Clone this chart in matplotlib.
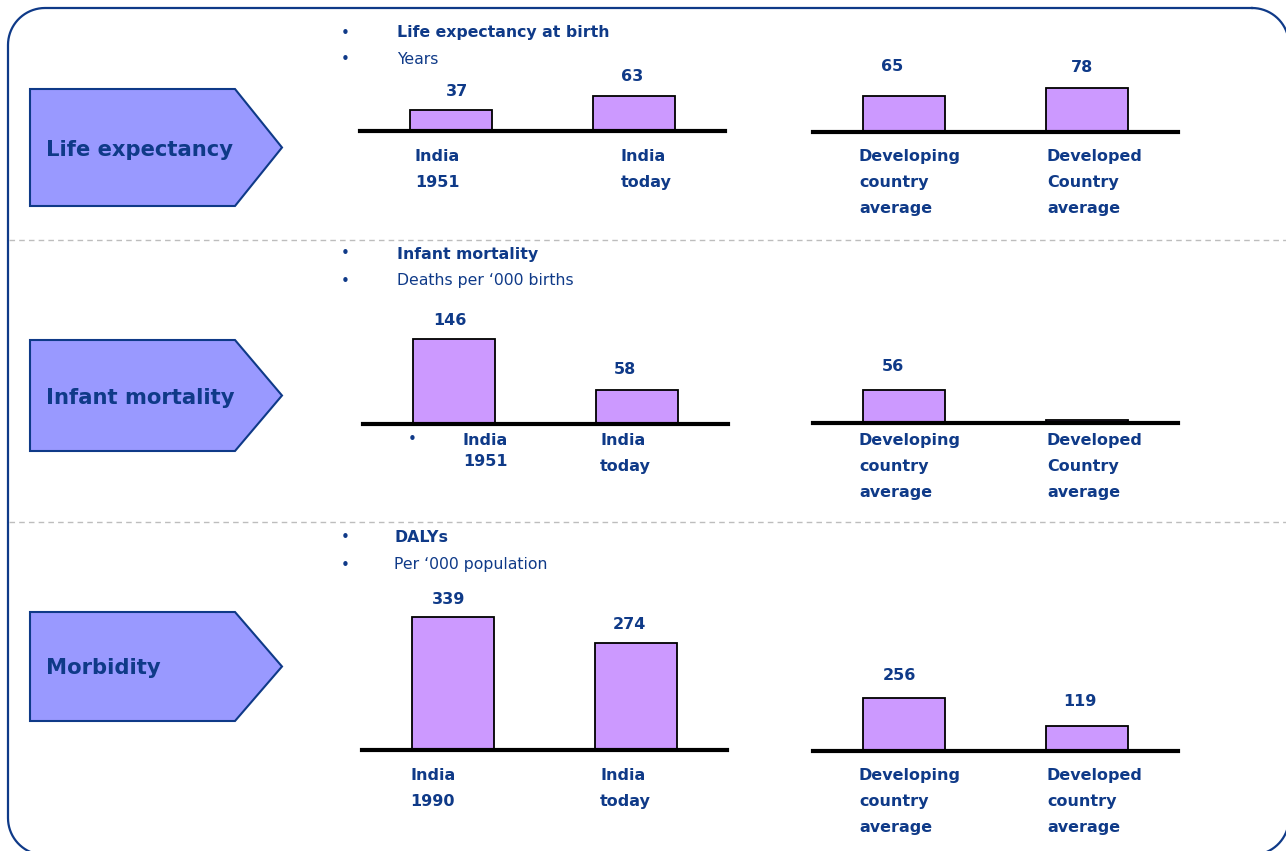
import numpy as np
import matplotlib
matplotlib.use("Agg")
import matplotlib.pyplot as plt
from matplotlib.patches import Polygon

# data
rows = ["Life expectancy", "Infant mortality", "Morbidity"]
headings = ["Life expectancy at birth", "Infant mortality", "DALYs"]
units = ["Years", "Deaths per \u2018000 births", "Per \u2018000 population"]

india_labels = [["India\n1951", "India\ntoday"],
                ["India\n1951", "India\ntoday"],
                ["India\n1990", "India\ntoday"]]
india_values = [[37, 63], [146, 58], [339, 274]]

world_labels = [["Developing\ncountry\naverage", "Developed\nCountry\naverage"],
                ["Developing\ncountry\naverage", "Developed\nCountry\naverage"],
                ["Developing\ncountry\naverage", "Developed\ncountry\naverage"]]
world_values = [[65, 78], [56, 5], [256, 119]]
world_shown = [[True, True], [True, False], [True, True]]

# layout (pixels, image coords from top-left)
W, H = 1286, 851
NAVY = "#0F3A88"
BAR = "#CC99FF"
ARROW = "#9999FF"

row_top = [89, 340, 612]
row_bot = [206, 451, 721]
head_y = [33, 254, 538]
head_x = [397, 397, 394]
base_left = [131, 424, 750]
base_right = [132, 423, 751]
left_x0 = [360, 363, 362]
right_x0 = 813
group_w = 365
scale_left = [0.56, 0.58, 0.392]
scale_right = [0.56, 0.59, 0.207]
label_top = [149, 433, 768]
left_label_x = [[415, 621], [463, 600], [410, 600]]
right_label_x = [859, 1047]
# value label nudges (dx, dy) in pixels, relative to bar centre / top
left_nudge = [[(6, 19), (-2, 19)], [(-4, 19), (-12, 21)], [(-5, 18), (-6, 18)]]
right_nudge = [[(-12, 29), (-5, 21)], [(-11, 23), (0, 0)], [(-5, 23), (-7, 25)]]

fig = plt.figure(figsize=(W / 100, H / 100), dpi=100)
bg = fig.add_axes([0, 0, 1, 1])
bg.set_xlim(0, W)
bg.set_ylim(H, 0)
bg.axis("off")

# outer rounded frame
fx0, fy0, fx1, fy1, rad = 8, 8, 1289, 855, 37
pts = []
for cx, cy, a0 in [(fx1 - rad, fy0 + rad, -90), (fx1 - rad, fy1 - rad, 0),
                   (fx0 + rad, fy1 - rad, 90), (fx0 + rad, fy0 + rad, 180)]:
    ang = np.radians(np.linspace(a0, a0 + 90, 20))
    pts += list(zip(cx + rad * np.cos(ang), cy + rad * np.sin(ang)))
pts.append(pts[0])
px, py = zip(*pts)
bg.plot(px, py, color=NAVY, linewidth=1.6, clip_on=False)

for yy in [240, 522]:
    bg.plot([9, W], [yy, yy], color="#BDBDBD", linewidth=1, dashes=(4, 3))

for r in range(3):
    t, b = row_top[r], row_bot[r]
    m = (t + b) / 2
    bg.add_patch(Polygon([(30, t), (235, t), (282, m), (235, b), (30, b)],
                         closed=True, facecolor=ARROW, edgecolor=NAVY, linewidth=1.5))
    bg.text(46, m + 2, rows[r], color=NAVY, fontsize=15.2, fontweight="bold",
            ha="left", va="center")

    # bullet text
    for k, txt in enumerate([headings[r], units[r]]):
        yy = head_y[r] + 27 * k
        bg.text(345, yy, "\u2022", color=NAVY, fontsize=11, ha="center", va="center")
        bg.text(head_x[r], yy, txt, color=NAVY, fontsize=11.3,
                fontweight="bold" if k == 0 else "normal", ha="left", va="center")

    groups = [(left_x0[r], base_left[r], scale_left[r], india_values[r],
               india_labels[r], [True, True], left_nudge[r], left_label_x[r]),
              (right_x0, base_right[r], scale_right[r], world_values[r],
               world_labels[r], world_shown[r], right_nudge[r], right_label_x)]
    for gi, (x0, base, sc, vals, labs, shown, nudge, lxs) in enumerate(groups):
        ax_h = 220
        ax = fig.add_axes([x0 / W, 1 - base / H, group_w / W, ax_h / H])
        ax.set_facecolor("none")
        ax.axis("off")
        ax.set_xlim(-0.5, 1.5)
        ax.set_ylim(0, ax_h / sc)
        ax.bar([0, 1], vals, width=0.45, color=BAR, edgecolor="black", linewidth=1.3,
               zorder=2)
        ax.axhline(0, color="black", linewidth=3, clip_on=False, zorder=3)
        for i, v in enumerate(vals):
            if shown[i]:
                ax.annotate(str(v), (i, v), xytext=nudge[i], textcoords="offset pixels",
                            ha="center", va="center", color=NAVY, fontsize=11.5,
                            fontweight="bold", annotation_clip=False)
        # category labels below bars
        for i, lab in enumerate(labs):
            ls = 1.93
            if r == 1 and gi == 0 and i == 0:
                bg.text(412, label_top[r] + 6, "\u2022", color=NAVY, fontsize=11,
                        ha="center", va="center")
                ls = 1.5
            bg.text(lxs[i], label_top[r], lab, color=NAVY, fontsize=11.5,
                    fontweight="bold", ha="left", va="top", linespacing=ls)

fig.savefig("out.png", dpi=100)
